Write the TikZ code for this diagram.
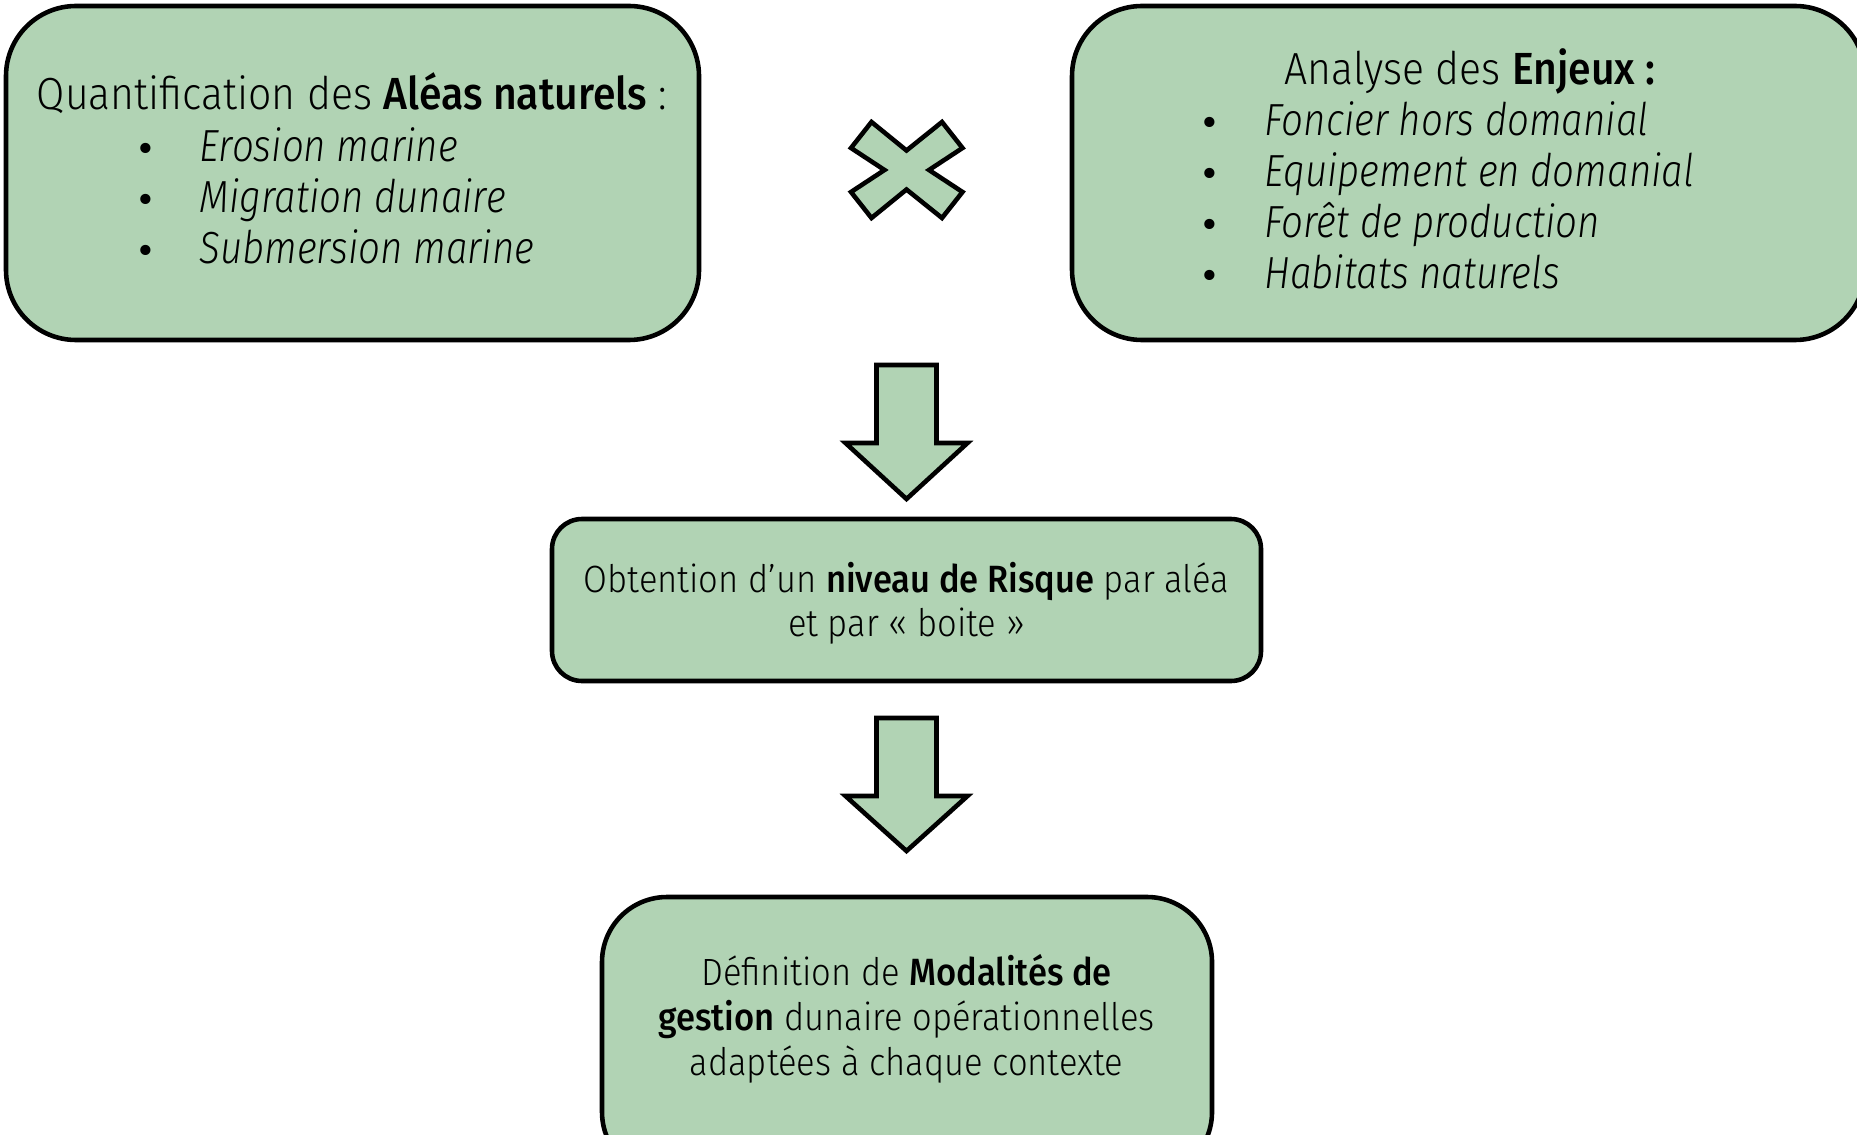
\documentclass[tikz,border=0pt]{standalone}
\usepackage{fontspec}
\setmainfont{Fira Sans}[FakeStretch=0.91,UprightFont=* Light,ItalicFont=* Light Italic,BoldFont=* Medium,
  ItalicFeatures={FakeStretch=0.855}]
\newfontfamily\pucefont{DejaVu Sans}
\definecolor{boxgreen}{RGB}{177,211,180}

\begin{document}
\begin{tikzpicture}[x=1cm,y=-1cm,
  boite/.style={draw=black,line width=1.3pt,fill=boxgreen},
  grand/.style={font=\fontsize{12.8}{15}\selectfont,inner sep=0pt,anchor=base},
  petit/.style={font=\fontsize{10.8}{13}\selectfont,inner sep=0pt,anchor=base},
  puce/.style={font=\pucefont\fontsize{10}{10}\selectfont,inner sep=0pt,anchor=base}]
  \useasboundingbox (0,0) rectangle (18.57,11.35);
  % les boites
  \node[boite,rounded corners=0.7cm,minimum width=6.93cm,minimum height=3.34cm] (alea) at (3.525,1.73) {};
  \node[boite,rounded corners=0.7cm,minimum width=7.93cm,minimum height=3.34cm] (enjeux) at (14.685,1.73) {};
  \node[boite,rounded corners=0.3cm,minimum width=7.09cm,minimum height=1.62cm] (risque) at (9.065,6.0) {};
  \node[boite,rounded corners=0.65cm,minimum width=6.1cm,minimum height=2.8cm] (gestion) at (9.07,10.37) {};
  % croix
  \draw[boite,line join=miter] (9.065,1.70) ++(-0.22,0) -- ++(-0.335,-0.22) -- ++(0.205,-0.26) -- ++(0.35,0.285)
    -- ++(0.355,-0.285) -- ++(0.205,0.26) -- ++(-0.335,0.22) -- ++(0.335,0.22) -- ++(-0.205,0.26)
    -- ++(-0.355,-0.285) -- ++(-0.35,0.285) -- ++(-0.205,-0.26) -- cycle;
  % fleches
  \draw[boite,line join=miter] (8.765,3.65) -- (9.365,3.65) -- (9.365,4.43) -- (9.675,4.43) -- (9.065,4.99)
    -- (8.455,4.43) -- (8.765,4.43) -- cycle;
  \draw[boite,line join=miter] (8.765,7.18) -- (9.365,7.18) -- (9.365,7.96) -- (9.675,7.96) -- (9.065,8.51)
    -- (8.455,7.96) -- (8.765,7.96) -- cycle;
  % textes des aleas
  \node[grand] (aleatitre) at (3.52,1.10) {Quantification des \textbf{Aléas naturels} :};
  \node[puce] (puce1) at (1.46,1.62) {•};
  \node[puce] (puce2) at (1.46,2.13) {•};
  \node[puce] (puce3) at (1.46,2.64) {•};
  \node[grand,anchor=base west] (erosion) at (1.99,1.62) {\textit{Erosion marine}};
  \node[grand,anchor=base west] (migration) at (1.99,2.13) {\textit{Migration dunaire}};
  \node[grand,anchor=base west] (submersion) at (1.99,2.64) {\textit{Submersion marine}};
  % textes des enjeux
  \node[grand] (enjeuxtitre) at (14.70,0.85) {Analyse des \textbf{Enjeux :}};
  \node[puce] (puce4) at (12.10,1.36) {•};
  \node[puce] (puce5) at (12.10,1.87) {•};
  \node[puce] (puce6) at (12.10,2.38) {•};
  \node[puce] (puce7) at (12.10,2.89) {•};
  \node[grand,anchor=base west] (foncier) at (12.64,1.36) {\textit{Foncier hors domanial}};
  \node[grand,anchor=base west] (equipement) at (12.64,1.87) {\textit{Equipement en domanial}};
  \node[grand,anchor=base west] (foret) at (12.64,2.38) {\textit{Forêt de production}};
  \node[grand,anchor=base west] (habitats) at (12.64,2.89) {\textit{Habitats naturels}};
  % textes du bas
  \node[petit] (risque1) at (9.065,5.92) {Obtention d’un \textbf{niveau de Risque} par aléa};
  \node[petit] (risque2) at (9.065,6.36) {et par « boite »};
  \node[petit] (gestion1) at (9.065,9.85) {Définition de \textbf{Modalités de}};
  \node[petit] (gestion2) at (9.065,10.30) {\textbf{gestion} dunaire opérationnelles};
  \node[petit] (gestion3) at (9.065,10.75) {adaptées à chaque contexte};
\end{tikzpicture}
\end{document}
